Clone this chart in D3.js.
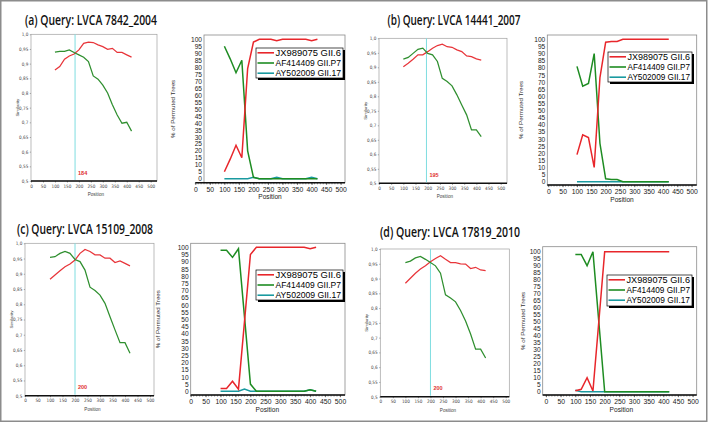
<!DOCTYPE html>
<html>
<head>
<meta charset="utf-8">
<script src="https://cdn.jsdelivr.net/npm/d3@7"></script>
<style>
  body { margin: 0; background: #fff; }
  svg { display: block; }
</style>
</head>
<body>
<div id="the_board"></div>
<script>
// window positions (bp) used in both plots
var positions = [100, 120, 140, 160, 180, 200, 220, 240, 260, 280, 300, 320, 340, 360, 380, 400, 420];

var titles = ["(a) Query: LVCA 7842_2004", "(b) Query: LVCA 14441_2007",
  "(c) Query: LVCA 15109_2008", "(d) Query: LVCA 17819_2010"];
var breakpoints = [184, 195, 200, 200];
var seriesNames = ["JX989075 GII.6", "AF414409 GII.P7", "AY502009 GII.17"];

// similarity plot tick labels
var simXTicks = [0, 50, 100, 150, 200, 250, 300, 350, 400, 450, 500];
var simYTicks = [0.5, 0.55, 0.6, 0.65, 0.7, 0.75, 0.8, 0.85, 0.9, 0.95, 1.0];
var simYLabels = ["0,5", "0,55", "0,6", "0,65", "0,7", "0,75", "0,8", "0,85", "0,9", "0,95", "1,0"];

// bootscan tick labels
var bootXTicks = [0, 50, 100, 150, 200, 250, 300, 350, 400, 450, 500];
var bootYTicks = [0, 5, 10, 15, 20, 25, 30, 35, 40, 45, 50, 55, 60, 65, 70, 75, 80, 85, 90, 95, 100];

// similarity values
var simA_JX = [0.878, 0.890, 0.915, 0.926, 0.933, 0.947, 0.969, 0.973, 0.972, 0.964, 0.958, 0.949, 0.952, 0.938, 0.938, 0.930, 0.922];
var simA_AF = [0.939, 0.942, 0.942, 0.947, 0.938, 0.930, 0.922, 0.907, 0.858, 0.847, 0.827, 0.800, 0.760, 0.725, 0.697, 0.700, 0.670];
var simB_JX = [0.902, 0.914, 0.928, 0.943, 0.943, 0.954, 0.966, 0.975, 0.980, 0.971, 0.969, 0.960, 0.954, 0.939, 0.937, 0.929, 0.925];
var simB_AF = [0.928, 0.934, 0.948, 0.962, 0.966, 0.948, 0.943, 0.920, 0.862, 0.851, 0.836, 0.805, 0.770, 0.736, 0.684, 0.684, 0.661];
var simC_JX = [0.882, 0.896, 0.910, 0.923, 0.932, 0.945, 0.967, 0.980, 0.973, 0.962, 0.962, 0.951, 0.951, 0.937, 0.942, 0.934, 0.926];
var simC_AF = [0.954, 0.956, 0.967, 0.973, 0.967, 0.947, 0.940, 0.912, 0.856, 0.845, 0.830, 0.803, 0.759, 0.716, 0.674, 0.674, 0.639];
var simD_JX = [0.884, 0.901, 0.918, 0.932, 0.943, 0.957, 0.968, 0.977, 0.965, 0.954, 0.954, 0.950, 0.949, 0.934, 0.938, 0.929, 0.927];
var simD_AF = [0.954, 0.959, 0.970, 0.975, 0.965, 0.954, 0.943, 0.918, 0.845, 0.834, 0.821, 0.792, 0.756, 0.712, 0.661, 0.661, 0.631];

// % of permuted trees
var bootA_JX = [5, 14, 24, 15, 79, 98, 100, 100, 100, 99, 100, 100, 100, 100, 100, 99, 100];
var bootA_AF = [95, 86, 76, 85, 20, 1, 0, 0, 0, 0, 0, 0, 0, 0, 0, 0, 0];
var bootA_AY = [0, 0, 0, 0, 0, 1, 0, 0, 0, 1, 0, 0, 0, 0, 0, 1, 0];
var bootB_JX = [19, 33, 31, 10, 73, 98, 98.5, 98.5, 100, 100, 100, 100, 100, 100, 100, 100, 100];
var bootB_AF = [81, 67, 69, 90, 27, 2, 1.5, 1.5, 0, 0, 0, 0, 0, 0, 0, 0, 0];
var bootB_AY = [0, 0, 0, 0, 0, 0, 0, 0, 0, 0, 0, 0, 0, 0, 0, 0, 0];
var bootC_JX = [2, 2, 7, 1.5, 48, 95, 100, 100, 100, 100, 100, 100, 100, 100, 100, 99, 100];
var bootC_AF = [98, 98, 93, 99, 52, 5, 0, 0, 0, 0, 0, 0, 0, 0, 0, 1, 0];
var bootC_AY = [0, 0, 0, 0, 1.5, 0, 0, 0, 0, 0, 0, 0, 0, 0, 0, 1, 0];
var bootD_JX = [0.7, 1.7, 10, 0.5, 50, 100, 100, 100, 100, 100, 100, 100, 100, 100, 100, 100, 100];
var bootD_AF = [98, 98, 90, 100, 50, 0, 0, 0, 0, 0, 0, 0, 0, 0, 0, 0, 0];
var bootD_AY = [1, 0, 0, 0, 0, 0, 0, 0, 0, 0, 0, 0, 0, 0, 0, 0, 0];

var simColors = ["#e8353a", "#2f8f2f"];
var bootColors = ["#e8262b", "#1e8c22", "#1a9aa0"];

// layout of every panel (pixels)
var panels = [
  { title: titles[0], bp: breakpoints[0], sim: [simA_JX, simA_AF], boot: [bootA_JX, bootA_AF, bootA_AY],
    tx: 91, ty: 20, tw: 132,
    s: { l: 31, r: 157, t: 34.3, b: 181, x500: 150.7 },
    p: { x0: 195.3, x500: 340.7, y100: 39.3, y0: 178.7, l: 204, r: 345, t: 35, b: 182.7 },
    leg: { x: 256, y: 48, w: 87, h: 30 }, ylab: 175 },
  { title: titles[1], bp: breakpoints[1], sim: [simB_JX, simB_AF], boot: [bootB_JX, bootB_AF, bootB_AY],
    tx: 454, ty: 20, tw: 133,
    s: { l: 379, r: 507, t: 38.3, b: 183.3, x500: 500.7 },
    p: { x0: 548.3, x500: 691.7, y100: 39.3, y0: 181.7, l: 547.3, r: 696.7, t: 35, b: 185 },
    leg: { x: 608, y: 52, w: 84, h: 30 }, ylab: 523 },
  { title: titles[2], bp: breakpoints[2], sim: [simC_JX, simC_AF], boot: [bootC_JX, bootC_AF, bootC_AY],
    tx: 85, ty: 229, tw: 136,
    s: { l: 25, r: 154, t: 243.3, b: 395.7, x500: 150 },
    p: { x0: 190.7, x500: 340, y100: 247.3, y0: 391.3, l: 190.7, r: 345, t: 243.3, b: 395 },
    leg: { x: 256, y: 270, w: 87, h: 30 }, ylab: 160 },
  { title: titles[3], bp: breakpoints[3], sim: [simD_JX, simD_AF], boot: [bootD_JX, bootD_AF, bootD_AY],
    tx: 450, ty: 232, tw: 140,
    s: { l: 380.3, r: 509.3, t: 249, b: 396.7, x500: 505.7 },
    p: { x0: 546, x500: 692.7, y100: 251.7, y0: 391.7, l: 542.7, r: 696.7, t: 246.7, b: 395 },
    leg: { x: 607, y: 275, w: 85, h: 31 }, ylab: 525 }
];

var svg_board = d3.select("#the_board")
  .append("svg")
  .attr("width", 708)
  .attr("height", 422);

svg_board.append("rect")
  .attr("x", 0.75).attr("y", 0.75)
  .attr("width", 706).attr("height", 420.5)
  .attr("fill", "#fff")
  .attr("stroke", "#8c8c8c")
  .attr("stroke-width", 1.5);

function drawSimilarity(p) {
  var b = p.s;
  var x = d3.scaleLinear().domain([0, 500]).range([b.l, b.x500]);
  var y = d3.scaleLinear().domain([0.5, 1]).range([b.b, b.t]);
  var g = svg_board.append("g");

  g.append("rect")
    .attr("x", b.l).attr("y", b.t)
    .attr("width", b.r - b.l).attr("height", b.b - b.t)
    .attr("fill", "#fff")
    .attr("stroke", "#a0a0a0")
    .attr("stroke-width", 0.7);

  // x axis
  var xa = g.append("g")
    .attr("transform", "translate(0," + b.b + ")")
    .call(d3.axisBottom(x).tickValues(simXTicks).tickSize(1.5).tickPadding(2));
  xa.select(".domain").remove();
  xa.selectAll("text").attr("font-size", 4.6).attr("fill", "#444")
    .attr("font-family", "'Liberation Sans Narrow', 'DejaVu Sans Condensed', sans-serif");
  xa.selectAll("line").attr("stroke", "#333").attr("stroke-width", 0.5);
  g.append("line")
    .attr("x1", b.l).attr("x2", b.r)
    .attr("y1", b.b).attr("y2", b.b)
    .attr("stroke", "#111").attr("stroke-width", 1.6);

  // y axis
  var ya = g.append("g")
    .attr("transform", "translate(" + b.l + ",0)")
    .call(d3.axisLeft(y).tickValues(simYTicks).tickSize(1.2).tickPadding(1.5)
      .tickFormat(function(d, i) { return simYLabels[i]; }));
  ya.select(".domain").remove();
  ya.selectAll("text").attr("font-size", 4.6).attr("fill", "#444")
    .attr("font-family", "'Liberation Sans Narrow', 'DejaVu Sans Condensed', sans-serif");
  ya.selectAll("line").attr("stroke", "#666").attr("stroke-width", 0.5);

  g.append("text")
    .attr("transform", "translate(" + (b.l - 12.5) + "," + ((b.t + b.b) / 2) + ") rotate(-90)")
    .attr("text-anchor", "middle")
    .attr("font-size", 4.4).attr("fill", "#444")
    .attr("font-family", "'Liberation Sans Narrow', sans-serif")
    .text("Similarity");
  g.append("text")
    .attr("x", (b.l + b.x500) / 2 + 5).attr("y", b.b + 15)
    .attr("text-anchor", "middle")
    .attr("font-size", 4.6).attr("fill", "#444")
    .attr("font-family", "'Liberation Sans Narrow', sans-serif")
    .text("Position");

  // breakpoint
  g.append("line")
    .attr("x1", x(p.bp)).attr("x2", x(p.bp))
    .attr("y1", b.t).attr("y2", b.b - 1)
    .attr("stroke", "#7fdde0").attr("stroke-width", 1);
  g.append("text")
    .attr("x", x(p.bp) + 3).attr("y", b.b - 6.5)
    .attr("font-size", 5.5).attr("font-weight", "bold")
    .attr("fill", "#e03030")
    .attr("font-family", "'Liberation Sans Narrow', sans-serif")
    .text(p.bp);

  var line = d3.line()
    .x(function(d, i) { return x(positions[i]); })
    .y(function(d) { return y(d); });
  p.sim.forEach(function(s, k) {
    g.append("path")
      .datum(s)
      .attr("d", line)
      .attr("fill", "none")
      .attr("stroke", simColors[k])
      .attr("stroke-width", 1.25);
  });
}

function drawBootscan(p) {
  var b = p.p;
  var x = d3.scaleLinear().domain([0, 500]).range([b.x0, b.x500]);
  var y = d3.scaleLinear().domain([0, 100]).range([b.y0, b.y100]);
  var g = svg_board.append("g");

  g.append("rect")
    .attr("x", b.l).attr("y", b.t)
    .attr("width", b.r - b.l).attr("height", b.b - b.t)
    .attr("fill", "#fff")
    .attr("stroke", "#8a8a8a")
    .attr("stroke-width", 0.8);

  // minor ticks every 10
  var minor = d3.range(0, 501, 10);
  g.selectAll(".minor")
    .data(minor)
    .enter()
    .append("line")
    .attr("x1", function(d) { return x(d); })
    .attr("x2", function(d) { return x(d); })
    .attr("y1", b.b).attr("y2", b.b + 1.6)
    .attr("stroke", "#333").attr("stroke-width", 0.5);

  var xa = g.append("g")
    .attr("transform", "translate(0," + b.b + ")")
    .call(d3.axisBottom(x).tickValues(bootXTicks).tickSize(2.2).tickPadding(2));
  xa.select(".domain").remove();
  xa.selectAll("text").attr("font-size", 6.8).attr("fill", "#1a1a1a")
    .attr("font-family", "'Liberation Sans', Arial, sans-serif");
  xa.selectAll("line").attr("stroke", "#222").attr("stroke-width", 0.6);
  g.append("line")
    .attr("x1", Math.min(b.x0, b.l)).attr("x2", b.r)
    .attr("y1", b.b).attr("y2", b.b)
    .attr("stroke", "#111").attr("stroke-width", 1.5);

  var ya = g.append("g")
    .attr("transform", "translate(" + b.l + ",0)")
    .call(d3.axisLeft(y).tickValues(bootYTicks).tickSize(0).tickPadding(2));
  ya.select(".domain").remove();
  ya.selectAll("text").attr("font-size", 6.6).attr("fill", "#1a1a1a")
    .attr("font-family", "'Liberation Sans', Arial, sans-serif");

  g.append("text")
    .attr("transform", "translate(" + p.ylab + "," + ((b.t + b.b) / 2) + ") rotate(-90)")
    .attr("text-anchor", "middle")
    .attr("font-size", 6.2).attr("fill", "#333")
    .attr("font-family", "'Liberation Sans', Arial, sans-serif")
    .text("% of Permuted Trees");
  g.append("text")
    .attr("x", (b.x0 + b.x500) / 2 + 2).attr("y", b.b + 16.5)
    .attr("text-anchor", "middle")
    .attr("font-size", 6.6).attr("fill", "#1a1a1a")
    .attr("font-family", "'Liberation Sans', Arial, sans-serif")
    .text("Position");

  var line = d3.line()
    .x(function(d, i) { return x(positions[i]); })
    .y(function(d) { return y(d); });
  // draw teal first so that others sit on top
  [2, 1, 0].forEach(function(k) {
    g.append("path")
      .datum(p.boot[k])
      .attr("d", line)
      .attr("fill", "none")
      .attr("stroke", bootColors[k])
      .attr("stroke-width", 1.5);
  });

  // legend
  var L = p.leg;
  g.append("rect")
    .attr("x", L.x + 2).attr("y", L.y + 2)
    .attr("width", L.w).attr("height", L.h)
    .attr("fill", "#000");
  g.append("rect")
    .attr("x", L.x).attr("y", L.y)
    .attr("width", L.w).attr("height", L.h)
    .attr("fill", "#fff")
    .attr("stroke", "#000").attr("stroke-width", 0.7);
  seriesNames.forEach(function(name, k) {
    var yy = L.y + 4.8 + k * 10.2;
    g.append("line")
      .attr("x1", L.x + 1.5).attr("x2", L.x + 18)
      .attr("y1", yy).attr("y2", yy)
      .attr("stroke", bootColors[k]).attr("stroke-width", 1.6);
    g.append("text")
      .attr("x", L.x + 19.5).attr("y", yy)
      .attr("dy", "0.35em")
      .attr("textLength", L.w - 21.5)
      .attr("lengthAdjust", "spacingAndGlyphs")
      .attr("font-size", 8.3).attr("fill", "#000")
      .attr("font-family", "'Liberation Sans', Arial, sans-serif")
      .text(name);
  });
}

panels.forEach(function(p) {
  svg_board.append("text")
    .attr("x", p.tx).attr("y", p.ty)
    .attr("dy", "0.35em")
    .attr("text-anchor", "middle")
    .attr("textLength", p.tw)
    .attr("lengthAdjust", "spacingAndGlyphs")
    .attr("font-size", 13.5)
    .attr("font-weight", 600)
    .attr("fill", "#111")
    .attr("font-family", "'Open Sans', sans-serif")
    .text(p.title);
  drawSimilarity(p);
  drawBootscan(p);
});
</script>
</body>
</html>
